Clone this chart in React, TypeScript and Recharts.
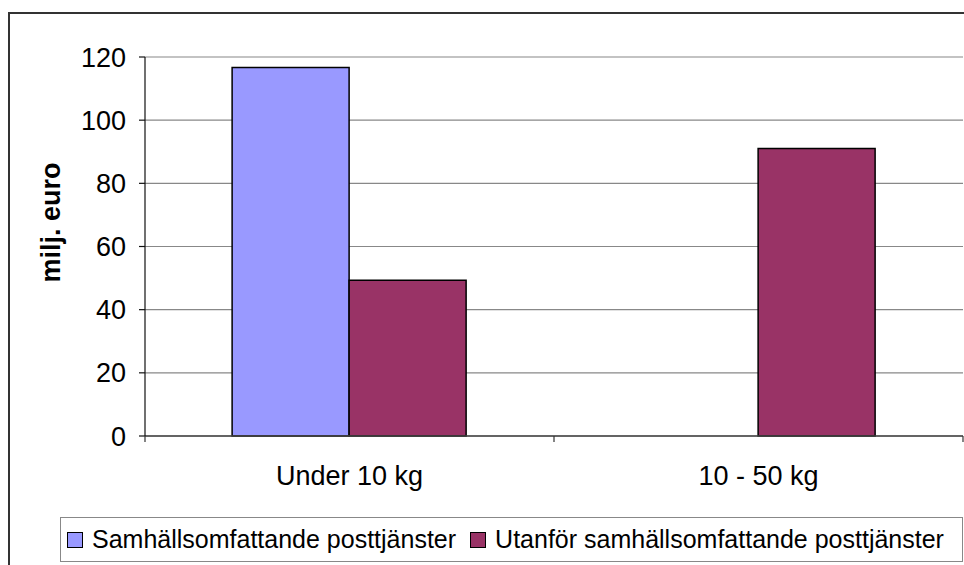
import React from "react";
import {
  BarChart,
  Bar,
  XAxis,
  YAxis,
  CartesianGrid,
  Legend,
  ReferenceLine,
  Label,
} from "recharts";

const categories = ["Under 10 kg", "10 - 50 kg"];
const universalService: (number | null)[] = [116.7, null];
const outsideUniversal: (number | null)[] = [49.3, 91.0];
const seriesNames = [
  "Samhällsomfattande posttjänster",
  "Utanför samhällsomfattande posttjänster",
];
const seriesColors = ["#9999FF", "#993366"];
const yTicks = [0, 20, 40, 60, 80, 100, 120];
const yAxisTitle = "milj. euro";

const data = categories.map((c, i) => ({
  category: c,
  a: universalService[i],
  b: outsideUniversal[i],
}));

const FONT = "Arial, 'Liberation Sans', sans-serif";

const renderYLabel = (props: any) => {
  const vb = props.viewBox || { x: 0, y: 0, width: 0, height: 0 };
  const cx = vb.x + 51;
  const cy = vb.y + vb.height / 2 - 24;
  return (
    <text
      x={cx}
      y={cy}
      transform={`rotate(-90, ${cx}, ${cy})`}
      textAnchor="middle"
      dominantBaseline="central"
      fontFamily={FONT}
      fontWeight="bold"
      fontSize={27}
      fill="#000"
    >
      {yAxisTitle}
    </text>
  );
};

const CategoryTick = (props: any) => {
  const { x, y, payload, index, width } = props;
  const band = (width || 818) / categories.length;
  const half = band / 2;
  const isLast = index === categories.length - 1;
  return (
    <g>
      <line x1={x - half} y1={y} x2={x - half} y2={y + 6} stroke="#333" strokeWidth={1.2} />
      {isLast && (
        <line x1={x + half} y1={y} x2={x + half} y2={y + 6} stroke="#333" strokeWidth={1.2} />
      )}
      <text
        x={x}
        y={y + 49}
        textAnchor="middle"
        fontFamily={FONT}
        fontSize={27}
        fill="#000"
      >
        {payload.value}
      </text>
    </g>
  );
};

const renderLegend = () => (
  <div
    style={{
      boxSizing: "border-box",
      width: "100%",
      height: "100%",
      border: "1.5px solid #888",
      background: "#fff",
      display: "flex",
      alignItems: "center",
      paddingLeft: 6,
      fontFamily: FONT,
      fontSize: 25,
      color: "#000",
      whiteSpace: "nowrap",
    }}
  >
    {seriesNames.map((name, i) => (
      <div
        key={name}
        style={{ display: "flex", alignItems: "center", marginRight: 14 }}
      >
        <span
          style={{
            display: "inline-block",
            boxSizing: "border-box",
            width: 16,
            height: 16,
            background: seriesColors[i],
            border: "1.5px solid #000",
            marginRight: 9,
          }}
        />
        <span>{name}</span>
      </div>
    ))}
  </div>
);

export default function App() {
  return (
    <div
      style={{
        position: "absolute",
        left: 0,
        top: 0,
        width: 964,
        height: 565,
        overflow: "hidden",
        background: "#fff",
      }}
    >
      <div
        style={{
          position: "absolute",
          left: 8,
          top: 12,
          width: 1000,
          height: 600,
          border: "2px solid #333",
        }}
      />
      <div style={{ position: "absolute", left: 0, top: 0 }}>
        <BarChart
          width={964}
          height={565}
          data={data}
          margin={{ top: 57, right: 1, left: 0, bottom: 69 }}
          barCategoryGap="21.3%"
          barGap={0}
          style={{ fontFamily: FONT }}
        >
          <CartesianGrid vertical={false} stroke="#888" strokeWidth={1.2} />
          <XAxis
            xAxisId="e"
            type="number"
            domain={[0, 2]}
            hide
          />
          <XAxis
            dataKey="category"
            height={60}
            interval={0}
            tickSize={0}
            tickLine={false}
            tickMargin={0}
            axisLine={{ stroke: "#444", strokeWidth: 1.5 }}
            tick={<CategoryTick />}
          />
          <YAxis
            domain={[0, 120]}
            ticks={yTicks}
            interval={0}
            width={145}
            tickSize={6}
            tickMargin={13}
            axisLine={{ stroke: "#111", strokeWidth: 1.2 }}
            tickLine={{ stroke: "#111", strokeWidth: 1.2 }}
            tick={{ fontSize: 27, fill: "#000", fontFamily: FONT }}
          >
            <Label content={renderYLabel} />
          </YAxis>
          <ReferenceLine xAxisId="e" x={2} stroke="#888" strokeWidth={1.2} />
          <Bar
            dataKey="a"
            name={seriesNames[0]}
            fill={seriesColors[0]}
            stroke="#000"
            strokeWidth={1.5}
            isAnimationActive={false}
          />
          <Bar
            dataKey="b"
            name={seriesNames[1]}
            fill={seriesColors[1]}
            stroke="#000"
            strokeWidth={1.5}
            isAnimationActive={false}
          />
          <Legend
            layout="vertical"
            verticalAlign="middle"
            align="center"
            content={renderLegend}
            wrapperStyle={{
              position: "absolute",
              left: 60,
              top: 517,
              width: 903,
              height: 45,
            }}
          />
        </BarChart>
      </div>
    </div>
  );
}
